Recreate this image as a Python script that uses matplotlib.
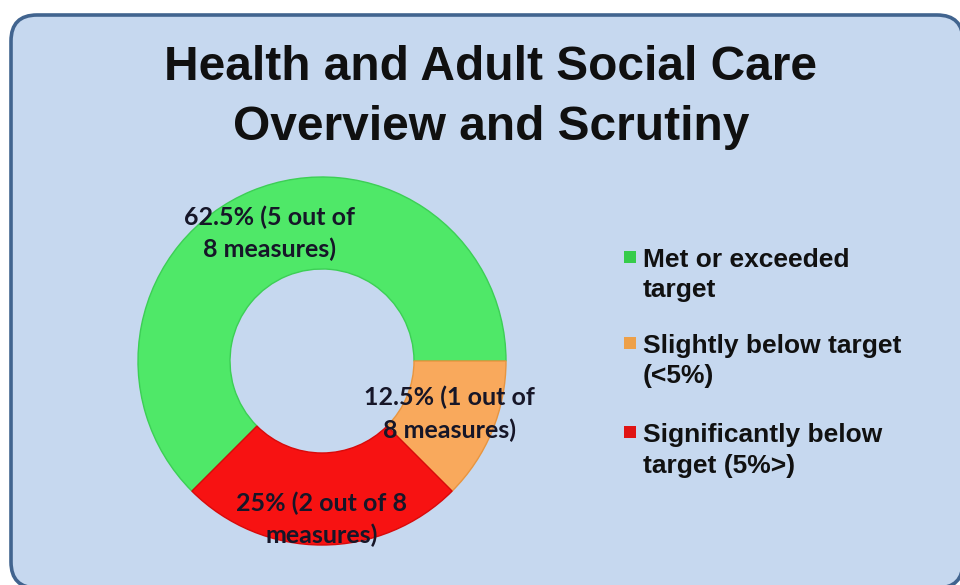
import matplotlib
matplotlib.use("Agg")
import matplotlib.pyplot as plt
from matplotlib.patches import FancyBboxPatch, Rectangle
import numpy as np

# ---- data ----
categories = ["Met or exceeded target",
              "Slightly below target (<5%)",
              "Significantly below target (5%>)"]
measures = [5, 1, 2]
total_measures = 8
data_labels = ["62.5% (5 out of\n8 measures)",
               "12.5% (1 out of\n8 measures)",
               "25% (2 out of 8\nmeasures)"]
legend_lines = [["Met or exceeded", "target"],
                ["Slightly below target", "(<5%)"],
                ["Significantly below", "target (5%>)"]]
title_lines = ["Health and Adult Social Care", "Overview and Scrutiny"]

# ---- style ----
W, H = 960, 585
colors = ["#4fe868", "#f9a95c", "#f71212"]
edge_colors = ["#3ccf55", "#e8953f", "#d80a0a"]
marker_colors = ["#36cc4a", "#eda049", "#e01414"]
label_radii = [0.75, 0.75, 0.86]
text_dark = "#161628"

fig = plt.figure(figsize=(W / 100, H / 100), dpi=100)
fig.patch.set_facecolor("white")

bg = fig.add_axes([0, 0, 1, 1], zorder=0)
bg.set_xlim(0, W)
bg.set_ylim(H, 0)
bg.axis("off")

box = FancyBboxPatch((11, 15), 952, 573,
                     boxstyle="round,pad=0,rounding_size=26",
                     facecolor="#c6d8ef", edgecolor="#41648f",
                     linewidth=2.6, clip_on=False)
bg.add_patch(box)

# title
for line, yb in zip(title_lines, [80, 140]):
    bg.text(491, yb, line, ha="center", va="baseline", fontsize=34.5,
            fontweight="bold", family="Liberation Sans", color="#101010")

# legend
legend_baselines = [267, 353, 442]
for cat_lines, col, yb in zip(legend_lines, marker_colors, legend_baselines):
    bg.add_patch(Rectangle((624, yb - 16), 12, 12, facecolor=col,
                           edgecolor="none"))
    for k, txt in enumerate(cat_lines):
        bg.text(643, yb + k * 30.5, txt, ha="left", va="baseline",
                fontsize=19, fontweight="bold", family="Liberation Sans",
                color="#111111")

# donut
cx, cy, R = 322, 361, 184
lim = 1.1
half = R * lim
ax = fig.add_axes([(cx - half) / W, (H - cy - half) / H,
                   2 * half / W, 2 * half / H], zorder=1)
ax.patch.set_alpha(0)
wedges, _ = ax.pie(measures, colors=colors, startangle=225,
                   counterclock=False,
                   wedgeprops=dict(width=0.5, linewidth=1.0))
for w, ec in zip(wedges, edge_colors):
    w.set_edgecolor(ec)
ax.set_xlim(-lim, lim)
ax.set_ylim(-lim, lim)
ax.set_aspect("equal")
ax.axis("off")

for w, lab, r in zip(wedges, data_labels, label_radii):
    th = np.deg2rad((w.theta1 + w.theta2) / 2)
    ax.text(r * np.cos(th), r * np.sin(th), lab, ha="center", va="center",
            fontsize=18, fontweight="bold", family="Lato", color=text_dark,
            linespacing=1.45)

fig.savefig("out.png", dpi=100, facecolor=fig.get_facecolor())
